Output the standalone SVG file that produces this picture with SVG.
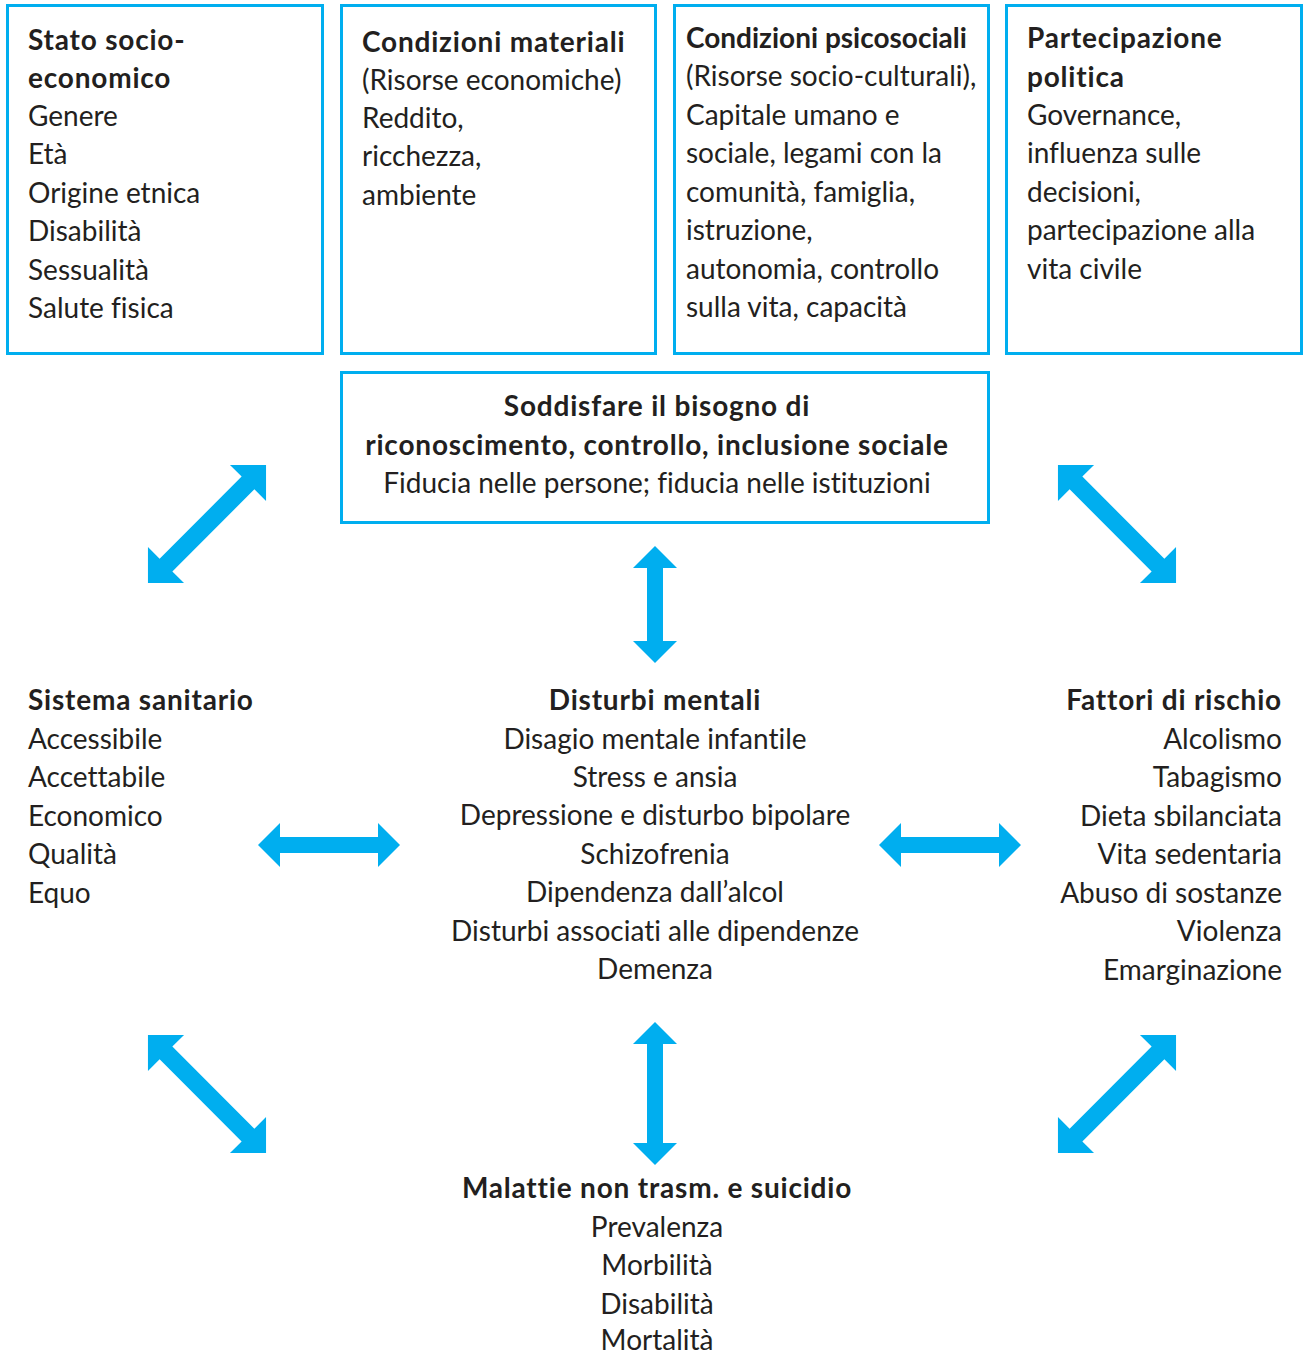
<svg xmlns="http://www.w3.org/2000/svg" width="1304" height="1354" viewBox="0 0 1304 1354">
<style>
.box{fill:#fff;stroke:#00aeef;stroke-width:3}
.t{font-family:Lato,"Open Sans","Liberation Sans",sans-serif;font-size:28px;fill:#231f20;font-variant-ligatures:none}
.b{font-weight:bold;letter-spacing:0.8px}
.c{text-anchor:middle}
.r{text-anchor:end}
.arr{fill:#00aeef}
</style>
<defs>
<polygon id="diag" points="-83.5,0 -58,-25.5 -58,-9 58,-9 58,-25.5 83.5,0 58,25.5 58,9 -58,9 -58,25.5"/>
<polygon id="h142" points="-71,0 -49,-22 -49,-8 49,-8 49,-22 71,0 49,22 49,8 -49,8 -49,22"/>
<polygon id="v117" points="0,-58.5 22,-36.5 8,-36.5 8,36.5 22,36.5 0,58.5 -22,36.5 -8,36.5 -8,-36.5 -22,-36.5"/>
</defs>
<rect width="1304" height="1354" fill="#fff"/>
<g id="node-stato">
<rect class="box" x="7.5" y="5.5" width="315" height="348"/>
<text class="t" x="28"><tspan class="b" x="28" y="50">Stato socio-</tspan><tspan class="b" x="28" y="88">economico</tspan><tspan x="28" y="126">Genere</tspan><tspan x="28" y="164">Età</tspan><tspan x="28" y="203">Origine etnica</tspan><tspan x="28" y="241">Disabilità</tspan><tspan x="28" y="280">Sessualità</tspan><tspan x="28" y="318">Salute fisica</tspan></text>
</g>
<g id="node-materiali">
<rect class="box" x="341.5" y="5.5" width="314" height="348"/>
<text class="t"><tspan class="b" x="362" y="52">Condizioni materiali</tspan><tspan x="362" y="90">(Risorse economiche)</tspan><tspan x="362" y="128">Reddito,</tspan><tspan x="362" y="166">ricchezza,</tspan><tspan x="362" y="205">ambiente</tspan></text>
</g>
<g id="node-psicosociali">
<rect class="box" x="674.5" y="5.5" width="314" height="348"/>
<text class="t"><tspan class="b" x="686" y="48" style="letter-spacing:0">Condizioni psicosociali</tspan><tspan x="686" y="86">(Risorse socio-culturali),</tspan><tspan x="686" y="125">Capitale umano e</tspan><tspan x="686" y="163">sociale, legami con la</tspan><tspan x="686" y="202">comunità, famiglia,</tspan><tspan x="686" y="240">istruzione,</tspan><tspan x="686" y="279">autonomia, controllo</tspan><tspan x="686" y="317">sulla vita, capacità</tspan></text>
</g>
<g id="node-partecipazione">
<rect class="box" x="1006.5" y="5.5" width="295" height="348"/>
<text class="t"><tspan class="b" x="1027" y="48">Partecipazione</tspan><tspan class="b" x="1027" y="87">politica</tspan><tspan x="1027" y="125">Governance,</tspan><tspan x="1027" y="163">influenza sulle</tspan><tspan x="1027" y="202">decisioni,</tspan><tspan x="1027" y="240">partecipazione alla</tspan><tspan x="1027" y="279">vita civile</tspan></text>
</g>
<g id="node-bisogno">
<rect class="box" x="341.5" y="372.5" width="647" height="150"/>
<text class="t c"><tspan class="b" x="657" y="416">Soddisfare il bisogno di</tspan><tspan class="b" x="657" y="455">riconoscimento, controllo, inclusione sociale</tspan><tspan x="657" y="493">Fiducia nelle persone; fiducia nelle istituzioni</tspan></text>
</g>
<g id="node-sanitario">
<text class="t"><tspan class="b" x="28" y="710">Sistema sanitario</tspan><tspan x="28" y="749">Accessibile</tspan><tspan x="28" y="787">Accettabile</tspan><tspan x="28" y="826">Economico</tspan><tspan x="28" y="864">Qualità</tspan><tspan x="28" y="903">Equo</tspan></text>
</g>
<g id="node-disturbi">
<text class="t c"><tspan class="b" x="655" y="710">Disturbi mentali</tspan><tspan x="655" y="749">Disagio mentale infantile</tspan><tspan x="655" y="787">Stress e ansia</tspan><tspan x="655" y="825">Depressione e disturbo bipolare</tspan><tspan x="655" y="864">Schizofrenia</tspan><tspan x="655" y="902">Dipendenza dall’alcol</tspan><tspan x="655" y="941">Disturbi associati alle dipendenze</tspan><tspan x="655" y="979">Demenza</tspan></text>
</g>
<g id="node-rischio">
<text class="t r"><tspan class="b" x="1282" y="710">Fattori di rischio</tspan><tspan x="1282" y="749">Alcolismo</tspan><tspan x="1282" y="787">Tabagismo</tspan><tspan x="1282" y="826">Dieta sbilanciata</tspan><tspan x="1282" y="864">Vita sedentaria</tspan><tspan x="1282" y="903">Abuso di sostanze</tspan><tspan x="1282" y="941">Violenza</tspan><tspan x="1282" y="980">Emarginazione</tspan></text>
</g>
<g id="node-malattie">
<text class="t c"><tspan class="b" x="657" y="1198">Malattie non trasm. e suicidio</tspan><tspan x="657" y="1237">Prevalenza</tspan><tspan x="657" y="1275">Morbilità</tspan><tspan x="657" y="1314">Disabilità</tspan><tspan x="657" y="1350">Mortalità</tspan></text>
</g>
<g id="connectors" class="arr">
<use href="#diag" transform="translate(207,524) rotate(-45)"/>
<use href="#diag" transform="translate(1117,524) rotate(45)"/>
<use href="#diag" transform="translate(207,1094) rotate(45)"/>
<use href="#diag" transform="translate(1117,1094) rotate(-45)"/>
<use href="#v117" transform="translate(655,604.5)"/>
<polygon points="655,1022 677,1044 663,1044 663,1143 677,1143 655,1165 633,1143 647,1143 647,1044 633,1044"/>
<use href="#h142" transform="translate(329,845)"/>
<use href="#h142" transform="translate(950,845)"/>
</g>
</svg>
